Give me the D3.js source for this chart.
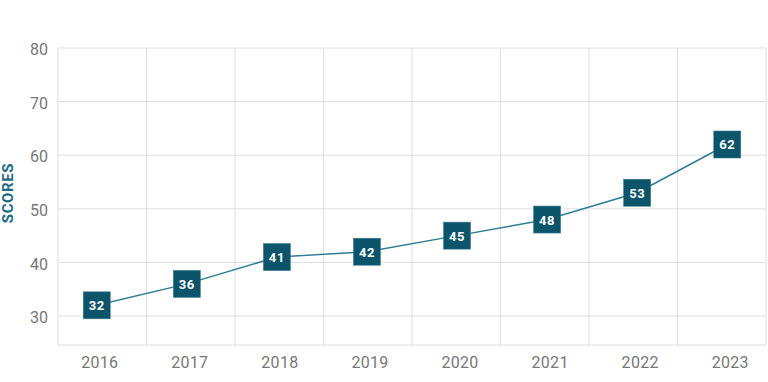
<!DOCTYPE html>
<html>
<head>
<meta charset="utf-8">
<script src="https://cdn.jsdelivr.net/npm/d3@7"></script>
<style>
  body { margin: 0; background: #fff; }
  svg { display: block; font-family: Roboto, "Noto Sans", sans-serif; }
</style>
</head>
<body>
<svg id="chart" width="768" height="382"></svg>
<script>
// chart values
const years = ['2016', '2017', '2018', '2019', '2020', '2021', '2022', '2023'];
const scores = [32, 36, 41, 42, 45, 48, 53, 62];
const yTicks = [30, 40, 50, 60, 70, 80];
const axisTitle = 'SCORES';

const width = 768;
const height = 382;
const margin = { top: 48, right: 2, bottom: 37, left: 58 };

const svg = d3.select('#chart');

const x0 = margin.left;
const x1 = width - margin.right;
const yBottom = height - margin.bottom;

// cells for the vertical grid
const xBand = d3.scaleBand().domain(years).range([x0, x1]);
// positions of markers and labels
const x = d3.scalePoint().domain(years).range([x0, x1]).padding(0.43);

const y = d3.scaleLinear().domain([24.6, 80]).range([yBottom, margin.top]);

const grid = svg.append('g');
grid.selectAll('line.h')
    .data(yTicks)
    .enter().append('line')
    .attr('x1', x0).attr('x2', x1)
    .attr('y1', (d) => y(d)).attr('y2', (d) => y(d))
    .attr('stroke', '#dedede').attr('stroke-width', 1);

const vEdges = years.map((d) => xBand(d)).concat([x1]);
grid.selectAll('line.v')
    .data(vEdges)
    .enter().append('line')
    .attr('x1', (d) => d).attr('x2', (d) => d)
    .attr('y1', margin.top).attr('y2', yBottom)
    .attr('stroke', '#dedede').attr('stroke-width', 1);

grid.append('line')
    .attr('x1', x0).attr('x2', x1)
    .attr('y1', yBottom).attr('y2', yBottom)
    .attr('stroke', '#dedede').attr('stroke-width', 1);

// y tick labels
svg.append('g').selectAll('text')
    .data(yTicks)
    .enter().append('text')
    .attr('x', x0 - 10)
    .attr('y', (d) => y(d) + 3)
    .attr('text-anchor', 'end')
    .attr('dominant-baseline', 'middle')
    .attr('font-size', 16)
    .attr('fill', '#777')
    .text((d) => d);

// x tick labels
svg.append('g').selectAll('text')
    .data(years)
    .enter().append('text')
    .attr('x', (d) => x(d) + 3)
    .attr('y', 368)
    .attr('text-anchor', 'middle')
    .attr('font-size', 16)
    .attr('fill', '#777')
    .attr('letter-spacing', 0.3)
    .text((d) => d);

// axis title
svg.append('text')
    .attr('transform', 'translate(13,193) rotate(-90)')
    .attr('text-anchor', 'middle')
    .attr('font-size', 15)
    .attr('font-weight', 'bold')
    .attr('letter-spacing', 0.6)
    .attr('fill', '#1d6a80')
    .text(axisTitle);

// line
const line = d3.line()
    .x((d, i) => x(years[i]))
    .y((d) => y(d));

svg.append('path')
    .datum(scores)
    .attr('d', line)
    .attr('fill', 'none')
    .attr('stroke', '#2e7d93')
    .attr('stroke-width', 1.5);

// markers
const size = 27;
const marks = svg.append('g').selectAll('g')
    .data(scores)
    .enter().append('g')
    .attr('transform', (d, i) => `translate(${x(years[i])},${y(d)})`);

marks.append('rect')
    .attr('x', -size / 2).attr('y', -size / 2)
    .attr('width', size).attr('height', size)
    .attr('fill', '#0c5469')
    .attr('stroke', '#3c7d90')
    .attr('stroke-width', 0.6);

marks.append('text')
    .attr('text-anchor', 'middle')
    .attr('dominant-baseline', 'central')
    .attr('dy', 0.5)
    .attr('font-size', 13)
    .attr('font-weight', 'bold')
    .attr('letter-spacing', 0.6)
    .attr('fill', '#fff')
    .text((d) => d);
</script>
</body>
</html>
